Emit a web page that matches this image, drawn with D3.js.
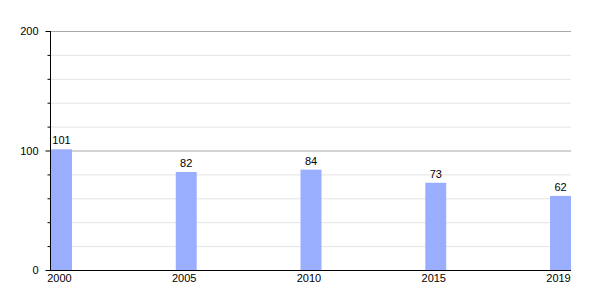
<!DOCTYPE html>
<html><head><meta charset="utf-8">
<script src="https://cdn.jsdelivr.net/npm/d3@7"></script>
<style>body{margin:0;background:#fff}svg{display:block}text{font-family:"Liberation Sans",Arial,sans-serif;font-size:11px;fill:#000}</style>
</head><body>
<svg id="c" width="600" height="300"></svg>
<script>
const years = ["2000","2005","2010","2015","2019"];
const values = [101,82,84,73,62];
const yMajorTicks = [0,100,200];
const yMinorTicks = [20,40,60,80,120,140,160,180];

const svg = d3.select("#c");
const x0 = 50, x1 = 571, yTop = 31, yBot = 270;
const x = d3.scaleBand().domain(years).range([x0+1, x1]).paddingInner(0.832).paddingOuter(0);
const y = d3.scaleLinear().domain([0,200]).range([yBot, yTop]);

// minor grid
svg.append("g").selectAll("line").data(yMinorTicks).join("line")
  .attr("x1", x0).attr("x2", x1).attr("y1", d=>y(d)+0.5).attr("y2", d=>y(d)+0.5)
  .attr("stroke", "#e4e4e4").attr("stroke-width",1);
// major grid
svg.append("g").selectAll("line").data(yMajorTicks.filter(d=>d>0)).join("line")
  .attr("x1", x0).attr("x2", x1).attr("y1", d=>y(d)+0.5).attr("y2", d=>y(d)+0.5)
  .attr("stroke", "#aaaaaa").attr("stroke-width",1);

// bars
svg.append("g").selectAll("rect").data(values).join("rect")
  .attr("x", (d,i)=>x(years[i])).attr("width", x.bandwidth())
  .attr("y", d=>y(d)).attr("height", d=>yBot - y(d))
  .attr("fill", "#9aaeff");

// value labels
svg.append("g").selectAll("text").data(values).join("text")
  .attr("x", (d,i)=>x(years[i]) + x.bandwidth()/2).attr("y", d=>y(d)-5)
  .attr("text-anchor","middle").text(d=>d);

// y axis
const ya = svg.append("g").attr("transform", `translate(${x0+0.5},0)`);
ya.append("line").attr("y1", yTop).attr("y2", yBot).attr("stroke","#000");
ya.selectAll(".maj").data(yMajorTicks).join("line").attr("class","maj")
  .attr("x1",-5).attr("x2",0).attr("y1",d=>y(d)+0.5).attr("y2",d=>y(d)+0.5).attr("stroke","#000");
ya.selectAll(".min").data(yMinorTicks).join("line").attr("class","min")
  .attr("x1",-3).attr("x2",0).attr("y1",d=>y(d)+0.5).attr("y2",d=>y(d)+0.5).attr("stroke","#000");
ya.selectAll("text").data(yMajorTicks).join("text")
  .attr("x",-12).attr("y",d=>y(d)+4).attr("text-anchor","end").text(d=>d);

// x axis
const xa = svg.append("g");
xa.append("line").attr("x1", x0).attr("x2", x1).attr("y1", yBot+0.5).attr("y2", yBot+0.5).attr("stroke","#000");
xa.selectAll("text").data(years).join("text")
  .attr("x", d=>x(d)+x.bandwidth()/2 - 2).attr("y", yBot+12).attr("text-anchor","middle").text(d=>d);
</script>
</body></html>
